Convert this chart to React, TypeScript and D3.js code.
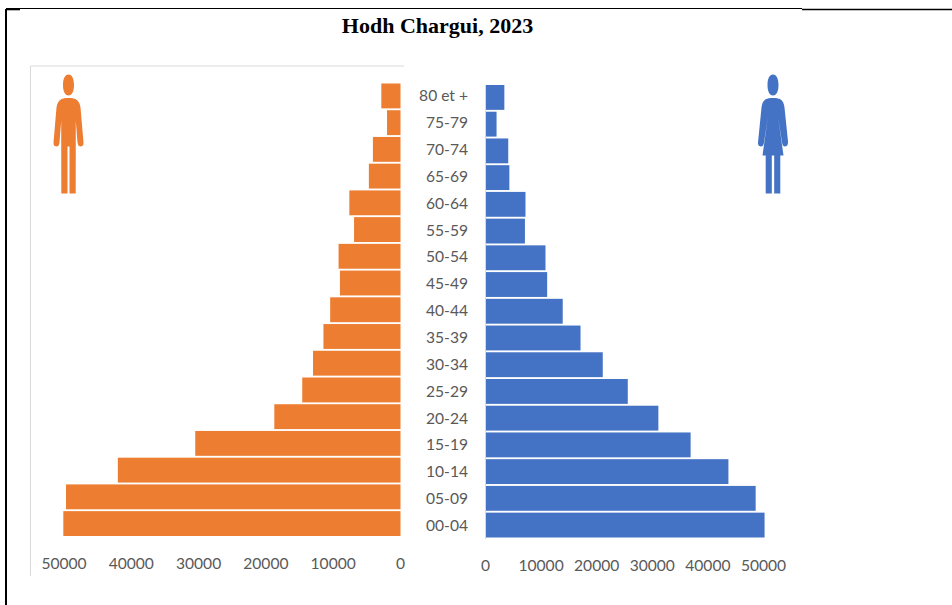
import React from "react";
import * as d3 from "d3";

const W = 952, H = 605;
const ageGroups = ["80 et +","75-79","70-74","65-69","60-64","55-59","50-54","45-49","40-44","35-39","30-34","25-29","20-24","15-19","10-14","05-09","00-04"];
const menValues = [2850,2000,4100,4700,7600,6900,9200,9000,10450,11450,13000,14600,18750,30500,42000,49700,50100];
const womenValues = [3300,1900,4000,4200,7100,7000,10700,11000,13800,17000,21000,25500,31000,36800,43600,48500,50100];
const tickValues = [0,10000,20000,30000,40000,50000];
const titleText = "Hodh Chargui, 2023";

const ORANGE = "#ED7D31", BLUE = "#4472C4";

const manPath = "M0 0C3.6 0 5.5 4.5 5.5 10.5C5.5 16.5 3.6 21 0 21C-3.6 21 -5.5 16.5 -5.5 10.5C-5.5 4.5 -3.6 0 0 0ZM-7 24.5C-4.5 23 4.5 23 7 24.5C10 26.5 11.5 29 12 33L15 68C15.2 71 13.5 72 12 72C10.5 72 9.5 71 9 68L7.3 46L7.2 119H1V72H-1V119H-7.2L-7.3 46L-9 68C-9.5 71 -10.5 72 -12 72C-13.5 72 -15.2 71 -15 68L-12 33C-11.5 29 -10 26.5 -7 24.5Z";
const womanPath = "M0 0C3.6 0 5.5 4.5 5.5 10.5C5.5 16.5 3.6 21 0 21C-3.6 21 -5.5 16.5 -5.5 10.5C-5.5 4.5 -3.6 0 0 0ZM-7 24.5C-4.5 23 4.5 23 7 24.5C10 26.5 11 29 11.5 33L15 67C15.2 71 13.5 72 12 72C10.5 72 9.5 71 9 68L5 42L10.5 81H7.3V119H1.2V81H-1.2V119H-7.3V81H-10.5L-5 42L-9 68C-9.5 71 -10.5 72 -12 72C-13.5 72 -15.2 71 -15 68L-11.5 33C-11 29 -10 26.5 -7 24.5Z";

export default function App() {
  const xLeft = d3.scaleLinear().domain([0, 50000]).range([400.5, 64]);
  const xRight = d3.scaleLinear().domain([0, 50000]).range([486, 764]);
  const yLeft = d3.scaleBand().domain(ageGroups).range([83.5, 536]).paddingInner(0.07);
  const yRight = d3.scaleBand().domain(ageGroups).range([85, 537.5]).paddingInner(0.07);
  const yLabel = d3.scalePoint().domain(ageGroups).range([96, 525.5]);
  const font = "Lato, 'Open Sans', sans-serif";
  const tickColor = "#595959";
  const fs = 15.6;
  return (
    <svg width={W} height={H} style={{ position: "absolute", left: 0, top: 0, background: "#fff" }}>
      <rect x={0} y={0} width={W} height={H} fill="#fff" />
      <line x1={6} y1={8.5} x2={802} y2={8.5} stroke="#000" strokeWidth={1} />
      <line x1={802} y1={9.5} x2={952} y2={9.5} stroke="#000" strokeWidth={1.6} />
      <line x1={6} y1={9.5} x2={20} y2={9.5} stroke="#000" strokeWidth={1.6} />
      <line x1={6} y1={9} x2={6} y2={605} stroke="#000" strokeWidth={2} />
      <path d="M30.5 576V66H404" fill="none" stroke="#D9D9D9" strokeWidth={1} />
      <line x1={485.5} y1={85} x2={485.5} y2={539} stroke="#D9D9D9" strokeWidth={1} />
      <text x={437.5} y={33} textAnchor="middle" fontFamily="'Liberation Serif', serif" fontWeight="bold" fontSize={22} fill="#000">{titleText}</text>
      {ageGroups.map((g, i) => (
        <rect key={g} x={xLeft(menValues[i])} y={yLeft(g)} width={xLeft(0) - xLeft(menValues[i])} height={yLeft.bandwidth()} fill={ORANGE} />
      ))}
      {ageGroups.map((g, i) => (
        <rect key={g} x={xRight(0)} y={yRight(g)} width={xRight(womenValues[i]) - xRight(0)} height={yRight.bandwidth()} fill={BLUE} />
      ))}
      {ageGroups.map((g) => (
        <text key={g} x={468} y={yLabel(g)! + 5.4} textAnchor="end" fontFamily={font} fontSize={fs} fill={tickColor}>{g}</text>
      ))}
      {tickValues.map((t) => (
        <text key={t} x={xLeft(t)} y={569} textAnchor="middle" fontFamily={font} fontSize={fs} fill={tickColor}>{t}</text>
      ))}
      {tickValues.map((t) => (
        <text key={t} x={xRight(t) - 0.5} y={570.5} textAnchor="middle" fontFamily={font} fontSize={fs} fill={tickColor}>{t}</text>
      ))}
      <path d={manPath} transform="translate(68.5,74.5)" fill={ORANGE} />
      <path d={womanPath} transform="translate(773,74.5)" fill={BLUE} />
    </svg>
  );
}
